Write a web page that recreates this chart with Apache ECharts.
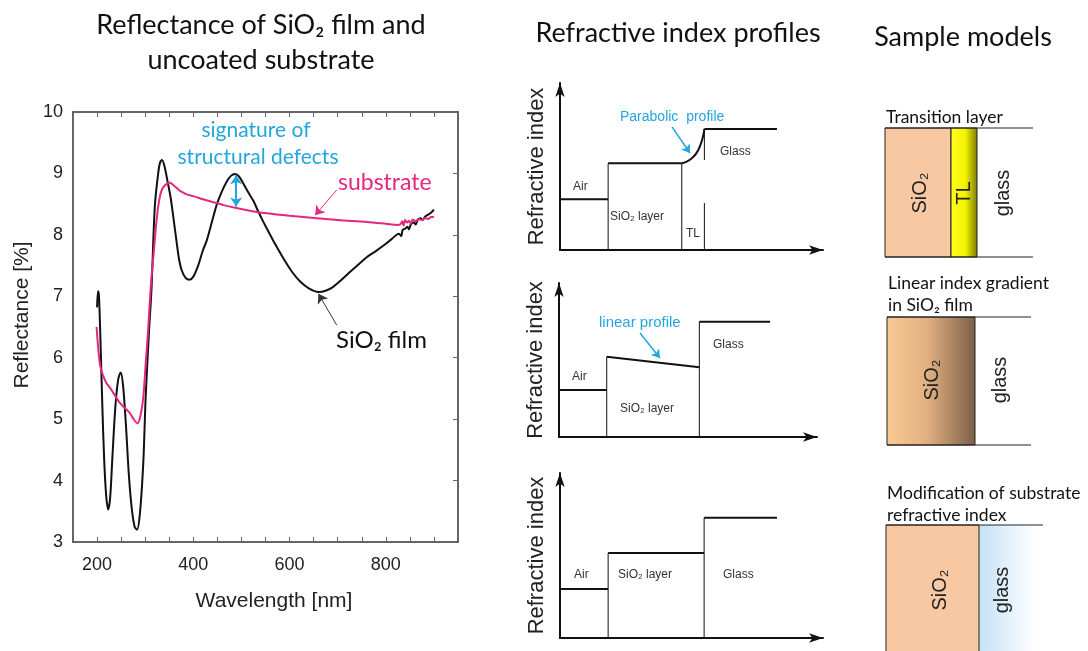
<!DOCTYPE html>
<html>
<head>
<meta charset="utf-8">
<script src="https://cdn.jsdelivr.net/npm/echarts@6/dist/echarts.min.js"></script>
<style>
html,body{margin:0;padding:0;background:#fff;}
#chart{width:1088px;height:651px;}
</style>
</head>
<body>
<div id="chart"></div>
<script>
// ---------- Reflectance data ----------
const filmWavelength = [200,202,204,207,211,215,219,223,227,232,238,244,249,254,260,266,272,278,283,289,296,301,308,313,320,327,331,335,340,347,353,360,365,370,376,384,392,400,410,420,428,440,449,459,469,478,487,495,505,515,525,535,545,553,570,587,605,622,640,660,675,690,708,726,745,761,780,796,812,827,832,835,840,845,848,852,858,862,866,872,876,882,888,894,900];
const filmReflectance = [6.82,7.08,7.0,6.3,5.2,4.3,3.75,3.53,3.7,4.4,5.2,5.65,5.76,5.55,4.9,4.1,3.55,3.25,3.2,3.46,4.28,5.36,6.44,7.1,8.46,9.0,9.18,9.22,9.12,8.85,8.6,8.2,7.9,7.62,7.42,7.3,7.27,7.32,7.5,7.75,7.91,8.25,8.5,8.7,8.86,8.96,8.99,8.95,8.82,8.68,8.55,8.38,8.22,8.1,7.85,7.62,7.4,7.24,7.13,7.07,7.09,7.15,7.27,7.4,7.53,7.64,7.74,7.83,7.93,8.02,7.98,8.08,8.1,8.13,8.09,8.17,8.2,8.17,8.24,8.27,8.24,8.3,8.33,8.36,8.41];
const subWavelength = [199,203,207,213,220,226,232,240,247,255,262,268,276,284,290,296,301,306,312,317,322,327,333,340,351,360,370,376,386,400,420,442,465,487,520,553,600,657,700,761,800,824,830,834,837,840,844,848,852,856,862,868,874,880,888,894,900];
const subReflectance = [6.5,6.1,5.85,5.7,5.58,5.52,5.45,5.35,5.27,5.2,5.15,5.1,5.0,4.93,5.05,5.35,5.9,6.44,7.2,7.64,8.1,8.46,8.7,8.8,8.85,8.8,8.73,8.7,8.66,8.63,8.58,8.53,8.48,8.44,8.39,8.35,8.31,8.27,8.24,8.21,8.18,8.16,8.17,8.22,8.15,8.24,8.2,8.23,8.18,8.25,8.22,8.26,8.24,8.27,8.26,8.29,8.29];
const xTickLabels = [200,400,600,800];
const yTickLabels = [3,4,5,6,7,8,9,10];

// annotation anchor points (data units)
const defectArrow = [[489,8.97],[489,8.46]];
const substrateArrow = [[698,8.73],[653,8.32]];
const filmArrow = [[698,6.53],[660,7.04]];

// ---------- Refractive index profiles (arbitrary units 0..10) ----------
const p1Levels = [[[0,3.04],[1.83,3.04]], [[1.83,5.19],[4.63,5.19]], [[5.49,7.25],[8.25,7.25]]];
const p1Parabola = [[4.63,5.19],[4.82,5.29],[5.01,5.49],[5.20,5.83],[5.36,6.39],[5.45,6.89],[5.49,7.25]];
const p1Walls = [[[1.83,0],[1.83,5.19]], [[4.63,0],[4.63,5.19]], [[5.49,0],[5.49,2.81]], [[5.49,5.39],[5.49,7.25]]];
const p1Arrow = [[4.26,7.37],[4.94,5.81]];

const p2Levels = [[[0,3.05],[1.85,3.05]], [[1.85,5.21],[5.44,4.53]], [[5.44,7.49],[8.18,7.49]]];
const p2Walls = [[[1.85,0],[1.85,5.21]], [[5.44,0],[5.44,7.49]]];
const p2Arrow = [[3.14,6.75],[3.91,5.13]];

const p3Levels = [[[0,2.97],[1.83,2.97]], [[1.83,5.15],[5.48,5.15]], [[5.48,7.29],[8.25,7.29]]];
const p3Walls = [[[1.83,0],[1.83,5.15]], [[5.48,0],[5.48,7.29]]];

const chart = echarts.init(document.getElementById('chart'), null, {renderer:'canvas'});
const AX = 'Liberation Sans';
const CAL = 'Lato';
const CYAN = '#23a5de';
const PINK = '#e5287f';

function segSeries(g, segs, width, smooth) {
  return segs.map(s => ({
    type:'line', xAxisIndex:g, yAxisIndex:g, data:s, showSymbol:false, smooth: !!smooth,
    lineStyle:{width:width, color:'#111'}, silent:true, z:3
  }));
}
function arrowLine(a, b, color, syms, size, width) {
  return {
    silent:true, symbol:syms, symbolSize:size, label:{show:false},
    lineStyle:{color:color, width:width, type:'solid'},
    emphasis:{disabled:true},
    data:[[{coord:a},{coord:b}]]
  };
}
function profileX(g) {
  return {gridIndex:g, type:'value', min:0, max:10,
    axisLine:{show:true, onZero:false, symbol:['none','arrow'], symbolSize:[7,14], lineStyle:{color:'#111', width:2}},
    axisTick:{show:false}, axisLabel:{show:false}, splitLine:{show:false}};
}
function profileY(g) {
  return {gridIndex:g, type:'value', min:0, max:10,
    name:'Refractive index', nameLocation:'middle', nameGap:12, nameRotate:90,
    nameTextStyle:{fontFamily:AX, fontSize:22, color:'#222'},
    axisLine:{show:true, onZero:false, symbol:['none','arrow'], symbolSize:[7,14], lineStyle:{color:'#111', width:2}},
    axisTick:{show:false}, axisLabel:{show:false}, splitLine:{show:false}};
}

function txt(x, y, text, font, fill, align, rot) {
  return {type:'text', x:x, y:y, rotation: rot || 0, silent:true, z:10,
    style:{text:text, font:font, fill:fill || '#222', align:align || 'left', verticalAlign:'middle'}};
}
function rect(x, y, w, h, fill, stroke) {
  return {type:'rect', silent:true, z:5, shape:{x:x, y:y, width:w, height:h},
    style:{fill:fill, stroke:stroke || null, lineWidth:1}};
}
function hline(x1, x2, y) {
  return {type:'line', silent:true, z:6, shape:{x1:x1, y1:y, x2:x2, y2:y}, style:{stroke:'#222', lineWidth:1}};
}

const peach = '#f8c8a2';
const TF = '27px ' + CAL;
const MF = '17.5px ' + CAL;
const RF = '20px ' + AX;
const graphics = [
  // titles
  txt(261, 25, 'Reflectance of SiO₂ film and', TF, '#111', 'center'),
  txt(261, 60, 'uncoated substrate', TF, '#111', 'center'),
  txt(678, 33, 'Refractive index profiles', TF, '#111', 'center'),
  txt(963, 37, 'Sample models', TF, '#111', 'center'),
  // main axis names
  txt(22, 315, 'Reflectance [%]', '21px ' + AX, '#222', 'center', Math.PI/2),
  txt(274, 601, 'Wavelength [nm]', '21px ' + AX, '#222', 'center'),
  // main annotations
  txt(256, 130, 'signature of', '21px ' + CAL, CYAN, 'center'),
  txt(258, 157, 'structural defects', '21px ' + CAL, CYAN, 'center'),
  txt(338, 183, 'substrate', '23px ' + CAL, PINK, 'left'),
  txt(336, 340, 'SiO₂ film', '24px ' + CAL, '#111', 'left'),
  // panel 1 labels
  txt(573, 187, 'Air', '12px ' + AX, '#333'),
  txt(610, 217, 'SiO₂ layer', '12px ' + AX, '#333'),
  txt(686, 234, 'TL', '12px ' + AX, '#333'),
  txt(720, 152, 'Glass', '12px ' + AX, '#333'),
  txt(620, 117, 'Parabolic  profile', '14px ' + AX, CYAN),
  // panel 2 labels
  txt(572, 377, 'Air', '12px ' + AX, '#333'),
  txt(620, 409, 'SiO₂ layer', '12px ' + AX, '#333'),
  txt(713, 345, 'Glass', '12px ' + AX, '#333'),
  txt(599, 323, 'linear profile', '15px ' + AX, CYAN),
  // panel 3 labels
  txt(574, 575, 'Air', '12px ' + AX, '#333'),
  txt(618, 575, 'SiO₂ layer', '12px ' + AX, '#333'),
  txt(723, 575, 'Glass', '12px ' + AX, '#333'),

  // ---- Sample model 1: transition layer ----
  txt(886, 117, 'Transition layer', MF, '#111'),
  rect(885, 128, 66, 129, peach, '#222'),
  rect(951, 128, 26, 129, new echarts.graphic.LinearGradient(0,0,1,0,[
    {offset:0, color:'#ffff20'}, {offset:0.55, color:'#f2f200'}, {offset:1, color:'#7a7a00'}]), '#222'),
  hline(885, 1033, 128), hline(885, 1033, 257),
  txt(920, 193, 'SiO₂', RF, '#222', 'center', Math.PI/2),
  txt(964, 193, 'TL', RF, '#222', 'center', Math.PI/2),
  txt(1003, 193, 'glass', RF, '#222', 'center', Math.PI/2),

  // ---- Sample model 2: linear gradient ----
  txt(888, 283, 'Linear index gradient', MF, '#111'),
  txt(888, 305, 'in SiO₂ film', MF, '#111'),
  rect(887, 317, 88, 128, new echarts.graphic.LinearGradient(0,0,1,0,[
    {offset:0, color:'#fbc994'}, {offset:0.45, color:'#e2b182'}, {offset:1, color:'#7b5f48'}]), '#222'),
  hline(887, 1031, 317), hline(887, 1031, 445),
  txt(932, 380, 'SiO₂', RF, '#222', 'center', Math.PI/2),
  txt(1000, 380, 'glass', RF, '#222', 'center', Math.PI/2),

  // ---- Sample model 3: modified substrate ----
  txt(887, 493, 'Modification of substrate', MF, '#111'),
  txt(887, 515, 'refractive index', MF, '#111'),
  rect(979, 525, 56, 130, new echarts.graphic.LinearGradient(0,0,1,0,[
    {offset:0, color:'#c6e1f6'}, {offset:1, color:'#ffffff'}])),
  rect(886, 525, 93, 135, peach, '#222'),
  hline(886, 1043, 525),
  txt(940, 590, 'SiO₂', RF, '#222', 'center', Math.PI/2),
  txt(1002, 590, 'glass', RF, '#222', 'center', Math.PI/2)
];

const filmData = filmWavelength.map((w,i) => [w, filmReflectance[i]]);
const subData = subWavelength.map((w,i) => [w, subReflectance[i]]);

const series = [
  {type:'line', name:'SiO₂ film', xAxisIndex:0, yAxisIndex:0, data:filmData, showSymbol:false, smooth:0.3,
   lineStyle:{color:'#111', width:2}, silent:true, z:3,
   markLine: arrowLine(filmArrow[0], filmArrow[1], '#333', ['none','arrow'], 9, 1)},
  {type:'line', name:'substrate', xAxisIndex:0, yAxisIndex:0, data:subData, showSymbol:false, smooth:0.3,
   lineStyle:{color:PINK, width:2}, silent:true, z:4,
   markLine: arrowLine(substrateArrow[0], substrateArrow[1], PINK, ['none','arrow'], 9, 1)},
  {type:'line', xAxisIndex:0, yAxisIndex:0, data:[], silent:true,
   markLine: arrowLine(defectArrow[0], defectArrow[1], CYAN, ['arrow','arrow'], 9, 2)}
];
series.push(...segSeries(1, p1Levels, 2));
series.push(...segSeries(1, [p1Parabola], 2, true));
series.push(...segSeries(1, p1Walls, 1));
series.push({type:'line', xAxisIndex:1, yAxisIndex:1, data:[], silent:true,
  markLine: arrowLine(p1Arrow[0], p1Arrow[1], CYAN, ['none','arrow'], 8, 1.5)});
series.push(...segSeries(2, p2Levels, 2));
series.push(...segSeries(2, p2Walls, 1));
series.push({type:'line', xAxisIndex:2, yAxisIndex:2, data:[], silent:true,
  markLine: arrowLine(p2Arrow[0], p2Arrow[1], CYAN, ['none','arrow'], 8, 1.5)});
series.push(...segSeries(3, p3Levels, 2));
series.push(...segSeries(3, p3Walls, 1));

const option = {
  animation:false,
  backgroundColor:'#ffffff',
  grid:[
    {left:73, top:112, width:385, height:430},
    {left:560, top:83, width:263, height:167},
    {left:559, top:283, width:258, height:154},
    {left:560, top:473, width:263, height:165}
  ],
  xAxis:[
    {gridIndex:0, type:'value', min:150, max:950, interval:50, position:'bottom',
     axisLine:{show:true, lineStyle:{color:'#333', width:1.5}},
     axisTick:{show:true, inside:true, length:5, lineStyle:{color:'#666'}},
     axisLabel:{fontFamily:AX, fontSize:18, color:'#222', margin:14,
       formatter:v => xTickLabels.indexOf(v) >= 0 ? String(v) : ''},
     splitLine:{show:false}},
    profileX(1), profileX(2), profileX(3),
    {gridIndex:0, type:'value', min:150, max:950, interval:50, position:'top',
     axisLine:{show:true, lineStyle:{color:'#333', width:1.5}},
     axisTick:{show:true, inside:true, length:5, lineStyle:{color:'#666'}},
     axisLabel:{show:false}, splitLine:{show:false}}
  ],
  yAxis:[
    {gridIndex:0, type:'value', min:3, max:10, interval:1, position:'left',
     axisLine:{show:true, lineStyle:{color:'#333', width:1.5}},
     axisTick:{show:false},
     axisLabel:{fontFamily:AX, fontSize:18, color:'#222', margin:10,
       formatter:v => yTickLabels.indexOf(v) >= 0 ? String(v) : ''},
     splitLine:{show:false}},
    profileY(1), profileY(2), profileY(3),
    {gridIndex:0, type:'value', min:3, max:10, interval:1, position:'right',
     axisLine:{show:true, lineStyle:{color:'#333', width:1.5}},
     axisTick:{show:true, inside:true, length:5, lineStyle:{color:'#666'}},
     axisLabel:{show:false}, splitLine:{show:false}}
  ],
  series: series,
  graphic: graphics
};
chart.setOption(option);
</script>
</body>
</html>
